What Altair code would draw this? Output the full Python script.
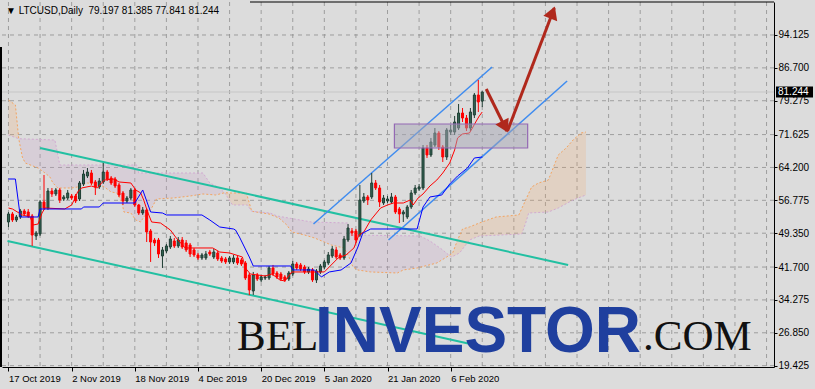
import altair as alt
import pandas as pd

# ---------------- data ----------------
date_labels = ["17 Oct 2019", "2 Nov 2019", "18 Nov 2019", "4 Dec 2019",
               "20 Dec 2019", "5 Jan 2020", "21 Jan 2020", "6 Feb 2020"]
grid_days = list(range(0, 193, 8))
price_ticks = [19.425, 26.85, 34.275, 41.7, 49.35, 56.775, 64.2, 71.625, 79.275, 86.7, 94.125]

opens = [51.88, 53.69, 52.33, 53.01, 54.37, 54.14, 53.24, 48.72, 49.17, 56.40,
         55.04, 58.88, 58.21, 59.11, 57.08, 57.30, 57.75, 57.75, 57.08, 60.46,
         62.27, 62.95, 60.92, 59.79, 60.92, 63.17, 61.82, 61.59, 60.24, 58.43,
         56.62, 57.30, 59.11, 55.72, 53.91, 54.59, 49.85, 47.81, 47.81, 44.20,
         45.33, 46.23, 47.59, 46.46, 47.81, 47.14, 46.68, 45.56, 44.43, 43.75,
         43.75, 45.10, 43.97, 44.88, 43.75, 43.52, 42.85, 42.85, 43.75, 43.30,
         42.62, 39.91, 36.29, 39.91, 38.78, 39.23, 39.23, 41.49, 40.36, 40.13,
         39.46, 39.00, 40.13, 42.39, 42.17, 41.72, 40.59, 41.04, 38.78, 40.59,
         41.72, 42.62, 44.20, 45.56, 44.43, 43.75, 47.81, 49.85, 49.85, 48.94,
         56.62, 57.53, 57.53, 60.69, 59.56, 56.17, 56.62, 56.40, 57.53, 54.82,
         53.69, 53.01, 55.27, 58.43, 59.34, 59.56, 68.60, 67.02, 69.27, 71.98,
         68.82, 66.56, 72.21, 72.21, 73.11, 76.50, 75.37, 73.11, 76.05, 80.57,
         79.197]
closes = [53.69, 52.33, 53.01, 54.37, 53.69, 53.24, 48.94, 49.39, 56.40, 55.04,
          58.88, 58.21, 59.11, 56.85, 57.53, 58.43, 57.30, 56.62, 60.69, 62.72,
          63.17, 60.69, 59.79, 61.14, 63.17, 61.59, 60.69, 60.01, 57.98, 56.62,
          57.30, 59.11, 55.72, 53.91, 54.59, 49.62, 47.36, 47.14, 44.65, 45.56,
          46.46, 48.04, 46.46, 47.81, 46.23, 45.56, 44.65, 44.43, 43.75, 44.43,
          44.65, 44.65, 45.10, 43.52, 43.07, 42.85, 43.75, 43.75, 42.62, 42.39,
          39.23, 36.52, 39.91, 39.00, 39.46, 39.46, 41.49, 40.13, 39.46, 39.00,
          38.78, 40.36, 42.39, 41.49, 41.26, 40.59, 41.26, 38.78, 40.81, 41.94,
          42.85, 44.43, 45.78, 43.97, 43.75, 48.04, 50.52, 49.39, 47.81, 56.85,
          57.53, 56.85, 60.69, 59.56, 56.40, 57.30, 57.08, 57.53, 54.14, 53.69,
          54.14, 55.27, 58.43, 59.56, 59.79, 68.60, 67.02, 69.95, 71.98, 68.82,
          66.56, 72.66, 72.66, 74.47, 76.50, 75.37, 73.11, 76.73, 80.57, 78.99,
          81.244]
highs = [54.14, 54.14, 53.46, 54.82, 54.82, 54.82, 53.69, 49.85, 56.85, 62.50,
         59.56, 59.56, 59.56, 59.56, 57.98, 59.11, 58.21, 58.21, 61.14, 63.63,
         64.08, 63.63, 61.37, 61.82, 65.21, 63.63, 62.27, 62.05, 60.69, 58.88,
         57.75, 59.56, 59.56, 55.95, 55.27, 55.04, 50.30, 48.27, 48.27, 46.23,
         46.91, 48.72, 48.27, 48.49, 48.49, 47.81, 47.14, 46.01, 44.88, 44.88,
         45.33, 45.56, 45.78, 45.33, 44.20, 43.97, 44.20, 44.43, 44.20, 43.75,
         43.07, 40.36, 40.59, 40.36, 39.91, 39.91, 41.94, 42.17, 40.81, 40.59,
         39.91, 40.81, 43.07, 42.85, 42.62, 42.17, 41.72, 41.49, 41.26, 42.39,
         43.30, 45.10, 46.46, 46.23, 44.88, 48.72, 51.43, 50.52, 50.30, 60.24,
         58.43, 57.98, 62.95, 61.37, 60.24, 57.98, 57.75, 58.43, 57.98, 55.27,
         54.59, 55.72, 59.11, 60.24, 60.46, 69.27, 69.27, 70.86, 73.11, 72.44,
         69.27, 73.11, 73.79, 75.83, 78.54, 77.63, 76.05, 77.63, 81.02, 83.96,
         81.385]
lows = [50.75, 51.88, 51.88, 52.56, 53.24, 52.79, 46.46, 47.81, 48.72, 54.59,
        54.59, 57.53, 57.75, 56.17, 56.62, 56.85, 56.85, 56.17, 56.62, 60.01,
        61.82, 60.24, 57.98, 59.34, 60.46, 61.14, 60.24, 59.56, 57.53, 55.72,
        56.17, 56.85, 55.27, 53.46, 53.46, 47.36, 42.85, 46.46, 43.75, 41.49,
        44.88, 45.78, 46.01, 46.01, 45.78, 45.10, 43.97, 43.97, 43.30, 43.30,
        43.30, 44.20, 43.52, 43.07, 42.62, 42.39, 42.39, 42.39, 42.17, 41.94,
        38.78, 35.39, 35.39, 38.55, 38.33, 38.78, 38.78, 39.68, 39.00, 38.55,
        38.33, 38.55, 39.68, 41.04, 40.81, 40.13, 40.13, 38.33, 38.10, 40.13,
        41.26, 42.17, 43.75, 43.52, 43.30, 43.30, 47.36, 48.72, 47.14, 48.49,
        56.17, 55.72, 57.08, 59.11, 55.27, 55.72, 56.17, 55.95, 53.69, 51.65,
        51.88, 52.56, 54.82, 57.98, 58.88, 59.11, 66.34, 66.56, 68.82, 68.15,
        65.43, 65.89, 71.53, 71.53, 72.66, 74.47, 72.44, 72.44, 75.37, 76.73,
        77.841]

# Ichimoku lines (day index, price)
tenkan_days = [0, 1, 3.5, 5.5, 6.25, 7.5, 8.5, 9.25, 14.25, 16, 17, 17.5, 18.5, 21, 22.5,
               24.25, 26.75, 28, 31, 32.25, 33.5, 34.25, 35.25, 36.25, 38.5, 41, 42.5, 44.75,
               51.75, 53.5, 56, 59.25, 60, 61.25, 65, 66.75, 68.75, 70, 71.75, 80, 81.25,
               83.5, 85.5, 87.5, 88.75, 90, 91.75, 94.25, 96, 97.5, 100, 101.75, 102.5,
               103.75, 105, 106.75, 108.5, 110, 111.75, 113, 113.75, 115, 116.75, 117.5,
               118.5, 119.25, 120]
tenkan_vals = [55.04, 54.82, 53.46, 53.01, 51.20, 51.43, 53.91, 55.04, 54.82, 55.72, 57.53,
               58.66, 59.56, 60.01, 59.56, 61.37, 61.59, 60.92, 60.69, 59.11, 58.43, 56.85,
               54.14, 51.88, 51.65, 50.07, 48.27, 46.01, 46.01, 45.10, 44.88, 43.97, 41.49,
               40.13, 39.68, 40.13, 38.78, 38.55, 40.59, 40.59, 41.72, 43.75, 44.43, 46.01,
               48.94, 49.62, 52.33, 55.04, 55.72, 56.17, 56.17, 56.85, 55.72, 57.30, 58.21,
               60.01, 61.37, 62.95, 65.21, 68.15, 70.86, 71.76, 71.98, 73.11, 74.70, 75.83,
               76.73]
kijun_days = [0, 1.75, 3, 7.5, 8, 18.5, 19, 23, 24, 32, 34, 36, 39, 40, 49, 51, 53.5, 57,
              57.5, 58.5, 61, 62, 71.5, 72, 77.5, 79.25, 81.25, 84.25, 86.75, 88.5, 89.75,
              91.75, 103.5, 105, 106.75, 109.75, 111.75, 113.75, 116.25, 118, 120]
kijun_vals = [61.59, 61.59, 53.01, 53.01, 54.82, 54.82, 55.27, 55.27, 56.17, 56.17, 59.11,
              54.14, 53.91, 53.46, 53.46, 52.33, 50.75, 50.30, 50.07, 48.49, 43.97, 41.94,
              41.94, 41.04, 41.04, 39.46, 40.59, 41.04, 42.62, 46.23, 49.39, 50.30, 50.30,
              55.27, 57.53, 57.98, 60.46, 62.27, 64.08, 66.34, 66.56]
span_a_days = [0, 1.75, 2.6, 3.5, 4.25, 7.5, 9.25, 10.5, 11.25, 12.5, 16, 17.5, 20, 22.5,
               24.25, 26, 27.5, 28.75, 29.25, 31, 32.25, 33.5, 34.25, 36, 37.5, 41.75, 46,
               49.25, 52.5, 54.75, 56, 60.25, 61, 61.6, 66, 68.5, 70.5, 71.75, 75, 77.5, 80,
               81.75, 85, 86.25, 87.25, 88.5, 91.75, 98.5, 100, 103.5, 108.5, 111, 111.6,
               112.5, 113.75, 115, 116.75, 119.25, 123.5, 129.25, 131, 132.5, 134.25,
               136.75, 139.25, 141.25, 143, 145, 146.25]
span_a_vals = [79.44, 78.31, 70.70, 66.56, 65.21, 64.08, 62.95, 62.05, 60.69, 59.56, 59.56,
               59.79, 60.69, 60.46, 59.79, 58.66, 58.43, 56.17, 54.14, 53.91, 52.33, 51.88,
               53.01, 54.59, 57.08, 57.30, 57.75, 58.21, 57.98, 58.50, 58.43, 58.43, 56.17,
               54.30, 53.69, 52.79, 51.20, 49.62, 48.94, 48.27, 47.36, 46.68, 46.01, 43.97,
               41.72, 41.04, 40.59, 40.36, 41.04, 41.49, 42.62, 43.97, 44.35, 44.88, 47.81,
               50.30, 50.75, 51.65, 53.01, 53.46, 56.85, 59.79, 60.69, 61.37, 67.02, 68.60,
               70.40, 71.98, 72.21]
span_b_days = [0, 2.6, 11.75, 13, 32.5, 33, 49.25, 51, 53, 54.75, 56.75, 60.5, 61.6, 66.25,
               68, 76.75, 86, 86.75, 104.25, 106.75, 110, 111.6, 112.25, 114.25, 116.75,
               119.25, 130, 131, 131.75, 136.75, 139.25, 143, 146.25]
span_b_vals = [71.53, 70.70, 70.40, 64.76, 64.76, 62.95, 62.95, 60.69, 59.79, 58.50, 55.72,
               55.72, 54.30, 53.91, 53.24, 51.88, 51.65, 48.94, 48.72, 47.59, 45.56, 44.35,
               43.97, 44.88, 47.81, 48.72, 49.17, 51.65, 53.91, 54.14, 55.04, 56.85, 57.98]
cloud_breaks = [0, 2.6, 54.75, 61.6, 111.6, 146.25]
cloud_kinds = ["a_up", "b_up", "a_up", "b_up", "a_up"]

# hand-drawn objects (day index, price)
teal_upper = {"d": [8, 141.75], "v": [68.60, 42.17]}
teal_lower = {"d": [-0.25, 117], "v": [47.59, 24.32]}
blue_upper = {"d": [77.25, 122.5], "v": [51.43, 86.89]}
blue_lower = {"d": [96.25, 141.5], "v": [47.81, 83.73]}
box_days = [97.75, 131.5]
box_vals = [68.60, 74.02]
arrow1 = {"d": [121, 126.25], "v": [81.92, 72.44]}
arrow2 = {"d": [126.4, 138.25], "v": [72.44, 100.22]}

# ---------------- frames ----------------
n = len(closes)
candles = pd.DataFrame({"d": list(range(n)), "open": opens, "close": closes,
                        "high": highs, "low": lows})
candles["dir"] = ["up" if c >= o else "down" for o, c in zip(opens, closes)]

rows = []
for k in range(len(cloud_kinds)):
    lo, hi = cloud_breaks[k], cloud_breaks[k + 1]
    pts = [(d, v) for d, v in zip(span_a_days, span_a_vals) if lo <= d <= hi]
    pts += [(d, v) for d, v in reversed(list(zip(span_b_days, span_b_vals))) if lo <= d <= hi]
    for j, (d, v) in enumerate(pts):
        rows.append({"d": d, "v": v, "seg": k, "kind": cloud_kinds[k], "ord": j})
cloud = pd.DataFrame(rows)

xs = alt.Scale(domain=[-0.375, 192.625], nice=False, zero=False)
ys = alt.Scale(domain=[19.12, 101.58], nice=False, zero=False)

label_js = "[" + ",".join("'" + s + "'" for s in date_labels) + "]"
last_label_day = 16 * (len(date_labels) - 1)
lab_test = f"datum.value % 16 == 0 && datum.value <= {last_label_day}"

x_axis = alt.Axis(values=grid_days, labelExpr=f"{lab_test} ? {label_js}[datum.value / 16] : ''",
                  grid=False,
                  domain=True, domainColor="black", domainWidth=1,
                  ticks=True, tickSize=4, tickColor="black",
                  tickOpacity={"condition": {"test": lab_test, "value": 1}, "value": 0},
                  labelAlign="left", labelFont="Liberation Sans", labelFontSize=9.5,
                  labelColor="black", labelPadding=2, labelOverlap=False, labelFlush=False,
                  title="")
y_axis = alt.Axis(orient="right", values=price_ticks, format=".3f",
                  grid=False,
                  domain=True, domainColor="black", domainWidth=1,
                  tickSize=3, tickColor="black", labelPadding=1,
                  labelFont="Liberation Sans", labelFontSize=10, labelColor="black",
                  labelOverlap=False, labelFlush=False, title="")


def X(f):
    return alt.X(f, type="quantitative", scale=xs, axis=x_axis)


def Y(f):
    return alt.Y(f, type="quantitative", scale=ys, axis=y_axis)


one = pd.DataFrame({"a": [0]})

spacer = alt.Chart(one).mark_text(text=" ", opacity=0).encode(
    x=alt.value(0), y=alt.value(0))

# dashed grid drawn from the tick arrays
grid_x = alt.Chart(pd.DataFrame({"gd": grid_days})).mark_rule(
    color="#8e8e8e", strokeWidth=1, strokeDash=[4, 4], opacity=0.8).encode(
    x=X("gd"), y=alt.value(0), y2=alt.value(365))
grid_y = alt.Chart(pd.DataFrame({"gv": price_ticks})).mark_rule(
    color="#8e8e8e", strokeWidth=1, strokeDash=[4, 4], opacity=0.8).encode(
    y=Y("gv"), x=alt.value(0), x2=alt.value(772))

last = pd.DataFrame({"v": [closes[-1]], "t": [f"{closes[-1]:.3f}"]})
price_line = alt.Chart(last).mark_rule(color="#c6c6c6", strokeWidth=1).encode(y=Y("v"))

cloud_a = alt.Chart(cloud).transform_filter("datum.kind == 'a_up'").mark_line(
    fill="#f4a460", fillOpacity=0.2, strokeOpacity=0).encode(
    x=X("d"), y=Y("v"), detail="seg:N", order="ord:Q")
cloud_b = alt.Chart(cloud).transform_filter("datum.kind == 'b_up'").mark_line(
    fill="#c8a0c8", fillOpacity=0.22, strokeOpacity=0).encode(
    x=X("d"), y=Y("v"), detail="seg:N", order="ord:Q")
span_a = alt.Chart(pd.DataFrame({"d": span_a_days, "v": span_a_vals})).mark_line(
    color="#f4a460", strokeWidth=1, strokeDash=[2, 2]).encode(x=X("d"), y=Y("v"))
span_b = alt.Chart(pd.DataFrame({"d": span_b_days, "v": span_b_vals})).mark_line(
    color="#d2aad2", strokeWidth=1, strokeDash=[2, 2]).encode(x=X("d"), y=Y("v"))


def seg_line(obj, color, width):
    return alt.Chart(pd.DataFrame(obj)).mark_line(color=color, strokeWidth=width).encode(
        x=X("d"), y=Y("v"))


teal1 = seg_line(teal_upper, "#22c0a2", 2)
teal2 = seg_line(teal_lower, "#22c0a2", 2)
blue1 = seg_line(blue_upper, "#3f8cf0", 1.5)
blue2 = seg_line(blue_lower, "#3f8cf0", 1.5)

up_c = alt.Chart(candles).transform_filter("datum.dir == 'up'")
dn_c = alt.Chart(candles).transform_filter("datum.dir == 'down'")
wick_up = up_c.mark_rule(color="#1f3d33", strokeWidth=1).encode(x=X("d"), y=Y("low"), y2="high")
wick_dn = dn_c.mark_rule(color="#ff0000", strokeWidth=1).encode(x=X("d"), y=Y("low"), y2="high")
body_up = up_c.mark_bar(width=2, fill="#336453", stroke="#1f3d33", strokeWidth=1).encode(
    x=X("d"), y=Y("open"), y2="close")
body_dn = dn_c.mark_bar(width=2, fill="#ff0000", stroke="#ff0000", strokeWidth=1).encode(
    x=X("d"), y=Y("open"), y2="close")

tenkan = alt.Chart(pd.DataFrame({"d": tenkan_days, "v": tenkan_vals})).mark_line(
    color="#ff0000", strokeWidth=1).encode(x=X("d"), y=Y("v"))
kijun = alt.Chart(pd.DataFrame({"d": kijun_days, "v": kijun_vals})).mark_line(
    color="#0000ff", strokeWidth=1).encode(x=X("d"), y=Y("v"))

box = alt.Chart(pd.DataFrame({"d0": [box_days[0]], "d1": [box_days[1]],
                              "v0": [box_vals[0]], "v1": [box_vals[1]]})).mark_rect(
    fill="#a6a6b4", fillOpacity=0.5, stroke="#9468b4", strokeWidth=1.2).encode(
    x=X("d0"), x2="d1", y=Y("v0"), y2="v1")

arr_col = "#b0281c"
arr1 = seg_line(arrow1, arr_col, 3)
arr2 = seg_line(arrow2, arr_col, 3)
head1 = alt.Chart(pd.DataFrame({"d": [arrow1["d"][1]], "v": [arrow1["v"][1]]})).mark_point(
    shape="triangle", filled=True, size=220, color=arr_col, opacity=1, angle=153,
    xOffset=-3, yOffset=-6).encode(x=X("d"), y=Y("v"))
head2 = alt.Chart(pd.DataFrame({"d": [arrow2["d"][1]], "v": [arrow2["v"][1]]})).mark_point(
    shape="triangle", filled=True, size=220, color=arr_col, opacity=1, angle=21,
    xOffset=-2.5, yOffset=6.5).encode(x=X("d"), y=Y("v"))

# frame pieces (top and left)
top_border = alt.Chart(one).mark_rule(color="black", strokeWidth=1).encode(
    x=alt.value(248), x2=alt.value(772), y=alt.value(0))
left_border = alt.Chart(one).mark_rule(color="black", strokeWidth=2).encode(
    x=alt.value(-1), y=alt.value(45), y2=alt.value(365))

title_txt = (f"\u25bc LTCUSD,Daily\u00a0\u00a0{opens[-1]:.3f} {highs[-1]:.3f} "
             f"{lows[-1]:.3f} {closes[-1]:.3f}")
title = alt.Chart(one).mark_text(align="left", baseline="middle", font="Liberation Sans",
                                 fontSize=10, color="black").encode(
    x=alt.value(4), y=alt.value(9), text=alt.value(title_txt))

price_box = alt.Chart(last).mark_rule(color="black", strokeWidth=11).encode(
    x=alt.value(774), x2=alt.value(811), y=Y("v"))
price_txt = alt.Chart(last).mark_text(align="left", baseline="middle", font="Liberation Sans",
                                      fontSize=10, color="white").encode(
    x=alt.value(776), y=Y("v"), text="t:N")

wm1 = alt.Chart(one).mark_text(align="left", baseline="alphabetic", font="Liberation Serif",
                               fontSize=43, color="#111111").encode(
    x=alt.value(235), y=alt.value(348), text=alt.value("BEL"))
wm2 = alt.Chart(one).mark_text(align="left", baseline="alphabetic", font="Liberation Sans",
                               fontWeight="bold", fontSize=64, color="#1f3f9e").encode(
    x=alt.value(313), y=alt.value(350), text=alt.value("INVESTOR"))
wm3 = alt.Chart(one).mark_text(align="left", baseline="alphabetic", font="Liberation Serif",
                               fontSize=43, color="#111111").encode(
    x=alt.value(641), y=alt.value(348), text=alt.value(".COM"))

chart = alt.layer(
    spacer, grid_x, grid_y, price_line, cloud_b, cloud_a, span_a, span_b,
    teal1, teal2, blue1, blue2,
    wick_up, wick_dn, body_up, body_dn, tenkan, kijun,
    box, arr1, arr2, head1, head2,
    top_border, left_border, title, price_box, price_txt, wm1, wm2, wm3,
).properties(
    width=772, height=365,
    padding={"left": 2, "top": 2, "right": 41, "bottom": 22},
    autosize=alt.AutoSizeParams(type="none"),
    background="#dcdcdc",
).configure_view(stroke="transparent")

chart.save("out.html", embed_options={"renderer": "svg", "actions": False})
